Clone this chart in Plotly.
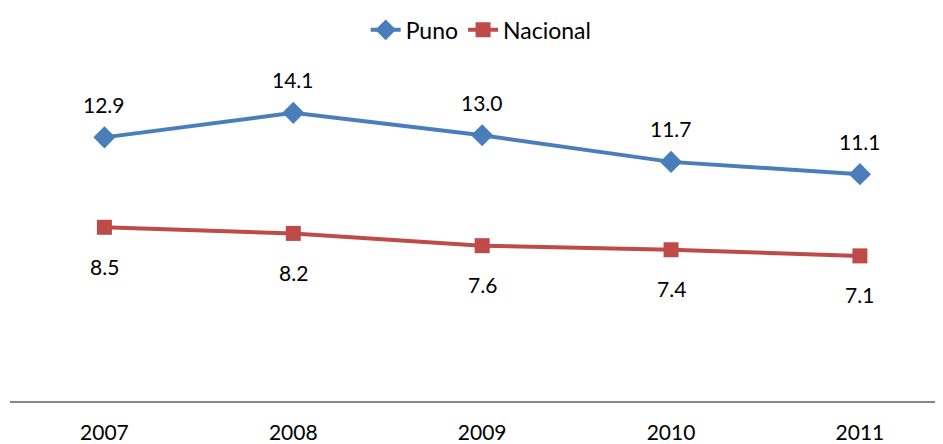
import plotly.graph_objects as go

years = ["2007", "2008", "2009", "2010", "2011"]
puno = [12.9, 14.1, 13.0, 11.7, 11.1]
nacional = [8.5, 8.2, 7.6, 7.4, 7.1]

blue = "#4A7EBB"
red = "#BE4B48"
font = "Lato, Open Sans, sans-serif"

fig = go.Figure()
fig.add_trace(go.Scatter(
    x=years, y=puno, name="Puno", mode="lines+markers",
    line=dict(color=blue, width=4),
    marker=dict(symbol="diamond", size=17, color=blue),
))
fig.add_trace(go.Scatter(
    x=years, y=nacional, name="Nacional", mode="lines+markers",
    line=dict(color=red, width=4),
    marker=dict(symbol="square", size=15, color=red),
))

# etiquetas de datos (en eje de categorías la x va por índice)
for i, v in enumerate(puno):
    fig.add_annotation(x=i, y=v, xref="x", yref="y", text=f"{v:.1f}", showarrow=False,
                       yshift=33, font=dict(size=21, color="black"))
for i, v in enumerate(nacional):
    fig.add_annotation(x=i, y=v, xref="x", yref="y", text=f"{v:.1f}", showarrow=False,
                       yshift=-39, font=dict(size=21, color="black"))

# la página tiene 8px de margen en el body: figura de 935x436
fig.update_layout(
    width=935, height=436,
    margin=dict(l=2, r=0, t=66, b=43),
    paper_bgcolor="white", plot_bgcolor="white",
    font=dict(family=font, size=21, color="black"),
    legend=dict(orientation="h", x=0.505, xanchor="center", y=1.135, yanchor="middle",
                font=dict(size=23), entrywidth=0),
    xaxis=dict(type="category", range=[-0.5, 4.44], showline=True,
               linecolor="#868686", linewidth=2, showgrid=False, ticks="",
               ticklabelstandoff=12),
    yaxis=dict(range=[0, 16], showticklabels=False, showline=False,
               showgrid=False, zeroline=False, ticks=""),
    showlegend=True,
)

fig.write_html("out.html")
